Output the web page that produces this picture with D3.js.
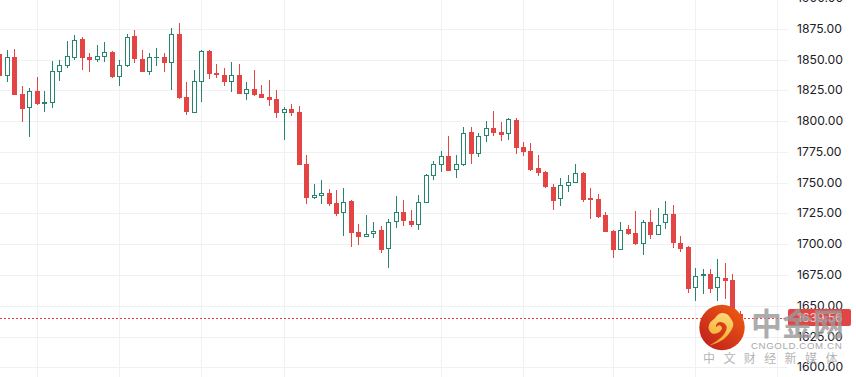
<!DOCTYPE html>
<html lang="zh">
<head>
  <meta charset="UTF-8">
  <title>Gold candles</title>
  <script src="https://d3js.org/d3.v7.min.js"></script>
  <style>
    html, body { margin: 0; padding: 0; background: #fff; overflow: hidden; }
    svg { display: block; }
  </style>
</head>
<body>
  <div id="root"></div>
  <script>
    const open = [1855.0,1837.1,1852.5,1822.5,1811.4,1824.9,1814.4,1815.5,1840.6,1845.5,1851.7,1867.1,1852.5,1850.4,1852.8,1856.6,1836.6,1845.5,1869.6,1850.9,1840.6,1851.7,1852.5,1847.9,1871.2,1820.1,1807.3,1832.5,1857.4,1839.5,
      1837.9,1832.5,1837.9,1822.8,1826.5,1822.5,1820.1,1818.4,1807.3,1810.3,1807.9,1765.7,1738.3,1740.0,1742.1,1734.0,1725.4,1735.6,1710.5,1706.7,1709.1,1712.1,1696.9,1718.1,1726.7,1719.4,1716.4,1734.3,1756.2,1765.1,
      1772.2,1761.1,1765.1,1791.6,1774.1,1788.1,1794.9,1791.6,1789.7,1801.4,1779.5,1776.2,1762.4,1759.2,1747.0,1737.5,1748.1,1750.5,1758.4,1738.1,1737.3,1724.3,1711.3,1696.1,1712.9,1709.7,1701.0,1718.6,1708.3,1717.5,
      1725.1,1701.5,1698.3,1664.5,1674.8,1676.4,1664.5,1673.1,1671.5,1643.9];
    const high = [1858.2,1858.2,1859.0,1829.0,1827.4,1836.3,1824.9,1849.3,1850.1,1865.5,1870.4,1868.8,1855.8,1862.3,1864.7,1857.4,1850.1,1871.2,1874.4,1858.2,1855.8,1859.8,1855.8,1876.1,1880.1,1832.2,1842.0,1858.2,1858.2,1846.8,
      1843.6,1848.5,1846.8,1832.2,1842.0,1829.8,1833.8,1825.7,1811.9,1814.4,1812.7,1773.0,1749.4,1752.7,1745.4,1744.6,1746.2,1736.4,1717.0,1724.3,1718.6,1715.3,1721.0,1739.7,1736.4,1728.3,1740.5,1757.6,1768.1,1776.2,
      1788.4,1773.0,1795.7,1795.7,1790.8,1800.6,1808.7,1799.8,1803.0,1803.0,1783.5,1782.7,1773.0,1760.0,1749.4,1754.3,1756.7,1765.7,1759.2,1746.2,1741.3,1726.7,1712.1,1718.6,1716.2,1727.5,1720.2,1728.3,1730.0,1735.6,
      1732.4,1707.2,1699.1,1681.3,1680.4,1680.4,1688.6,1685.3,1676.4,1646.4];
    const low = [1833.8,1832.2,1821.7,1799.8,1787.6,1813.6,1807.9,1811.1,1833.0,1843.6,1850.1,1842.0,1840.3,1848.5,1848.5,1835.5,1829.0,1844.4,1847.6,1840.3,1837.9,1845.2,1840.3,1825.7,1818.4,1805.4,1807.1,1816.0,1834.7,1835.5,
      1829.0,1824.1,1822.5,1817.6,1820.9,1819.2,1812.7,1803.0,1785.1,1804.6,1764.9,1733.2,1737.3,1733.2,1731.6,1723.5,1707.2,1698.3,1699.9,1706.4,1705.6,1693.4,1681.3,1713.7,1715.3,1714.5,1712.1,1734.3,1752.7,1759.2,
      1760.0,1754.3,1764.0,1765.7,1771.3,1783.5,1788.4,1784.3,1785.1,1773.8,1772.2,1760.0,1755.9,1746.2,1728.3,1731.6,1742.9,1750.5,1734.8,1721.0,1721.8,1710.5,1689.4,1695.9,1708.0,1699.9,1691.8,1704.8,1708.0,1712.9,
      1697.5,1694.2,1661.0,1654.5,1660.2,1661.0,1654.5,1656.1,1643.1,1630.0];
    const close = [1837.1,1852.2,1821.7,1810.3,1824.9,1814.4,1816.0,1841.2,1846.0,1853.3,1866.3,1851.7,1850.1,1853.3,1856.6,1836.3,1846.0,1868.8,1850.9,1840.3,1852.5,1852.5,1847.6,1871.2,1819.2,1807.9,1833.0,1857.4,1838.7,1837.9,
      1832.2,1837.6,1822.5,1826.3,1821.7,1819.2,1817.6,1807.1,1810.3,1807.1,1764.9,1738.1,1740.2,1741.9,1733.2,1725.1,1734.6,1709.7,1706.4,1709.1,1711.0,1695.9,1718.3,1726.4,1719.4,1716.2,1734.6,1756.5,1765.4,1771.9,
      1760.0,1765.4,1790.6,1773.8,1788.1,1794.6,1790.8,1789.2,1801.9,1778.7,1775.4,1760.8,1758.4,1747.0,1735.6,1748.4,1750.8,1758.1,1736.4,1736.4,1722.6,1710.5,1695.9,1711.8,1708.9,1700.7,1718.3,1708.0,1715.9,1724.8,
      1701.8,1696.7,1664.2,1674.5,1676.4,1664.2,1673.7,1670.7,1643.9,1640.3];
    const yTicks = [1900,1875,1850,1825,1800,1775,1750,1725,1700,1675,1650,1625,1600];
    const timeTicks = [5,16,27,38,59,70,82,93,104];
    const lastLabel = '1639.56';

    const W = 856, H = 377, plotW = 788;
    const green = '#26856e', red = '#e34444';

    const svg = d3.select('#root').append('svg')
      .attr('width', W)
      .attr('height', H)
      .style('background', '#fff');

    const x = d3.scaleLinear().domain([0, 105]).range([-0.1, 785.3]);
    const y = d3.scaleLinear().domain([1875, 1625]).range([28.8, 336.6]);
    const yRound = y.copy().interpolate(d3.interpolateRound);

    // grid
    svg.append('g').selectAll('line').data(timeTicks).join('line')
      .attr('x1', d => Math.floor(x(d)) + 0.5)
      .attr('x2', d => Math.floor(x(d)) + 0.5)
      .attr('y1', 0)
      .attr('y2', H)
      .attr('stroke', '#f0f1f3');

    svg.append('g')
      .attr('transform', `translate(${plotW},0)`)
      .call(d3.axisLeft(yRound).tickValues(yTicks).tickSize(plotW).tickFormat(''))
      .call(g => g.select('.domain').remove())
      .call(g => g.selectAll('line').attr('stroke', '#f0f1f3'));

    // y labels
    svg.append('g')
      .attr('transform', 'translate(797,0)')
      .call(d3.axisRight(yRound).tickValues(yTicks).tickSize(0).tickPadding(0).tickFormat(d3.format('.2f')))
      .call(g => g.select('.domain').remove())
      .call(g => g.selectAll('text')
        .attr('font-family', 'Inter, Roboto, sans-serif')
        .attr('font-size', 12.2)
        .attr('fill', '#1c2026'));

    // candles
    const colX = i => Math.floor(x(i));
    const rowY = v => Math.round(y(v) + 0.5);
    const idx = d3.range(open.length);
    const candle = svg.append('g').selectAll('g').data(idx).join('g');

    candle.append('rect')
      .attr('x', i => colX(i))
      .attr('width', 1)
      .attr('y', i => rowY(high[i]))
      .attr('height', i => rowY(low[i]) - rowY(high[i]))
      .attr('fill', i => close[i] > open[i] ? green : red);

    candle.append('rect')
      .each(function(i) {
        const up = close[i] > open[i];
        const top = rowY(Math.max(open[i], close[i]));
        const h = Math.max(rowY(Math.min(open[i], close[i])) - top, 1);
        const hollow = up && h > 2;
        d3.select(this)
          .attr('x', colX(i) - 2 + (hollow ? 0.5 : 0))
          .attr('width', hollow ? 4 : 5)
          .attr('y', top + (hollow ? 0.5 : 0))
          .attr('height', hollow ? h - 1 : h)
          .attr('fill', hollow ? '#fff' : (up ? green : red))
          .attr('stroke', hollow ? green : 'none');
      });

    // last price
    const lastY = rowY(close[close.length - 1]);
    svg.append('line')
      .attr('x1', 0).attr('x2', plotW)
      .attr('y1', lastY + 0.5).attr('y2', lastY + 0.5)
      .attr('stroke', '#ee3a3a')
      .attr('stroke-dasharray', '2,2');

    svg.append('rect')
      .attr('x', plotW).attr('y', lastY - 9)
      .attr('width', 63).attr('height', 17)
      .attr('rx', 2)
      .attr('fill', red);

    svg.append('text')
      .attr('x', 797).attr('y', lastY + 4)
      .attr('font-family', 'Inter, Roboto, sans-serif')
      .attr('font-size', 12.2)
      .attr('fill', '#fff')
      .attr('fill-opacity', 0.75)
      .text(lastLabel);

    // watermark
    const defs = svg.append('defs');
    const disc = defs.append('linearGradient').attr('id', 'disc')
      .attr('x1', 0.9).attr('y1', 0.05).attr('x2', 0.1).attr('y2', 0.95);
    disc.append('stop').attr('offset', 0).attr('stop-color', '#ee5a12');
    disc.append('stop').attr('offset', 1).attr('stop-color', '#c01f1e');
    const swirl = defs.append('linearGradient').attr('id', 'swirl')
      .attr('x1', 0.5).attr('y1', 0).attr('x2', 0.3).attr('y2', 1);
    swirl.append('stop').attr('offset', 0).attr('stop-color', '#fbd878');
    swirl.append('stop').attr('offset', 1).attr('stop-color', '#f6a51f');

    const logo = svg.append('g').attr('transform', 'translate(722,327.5)');
    logo.append('circle').attr('r', 22.7).attr('fill', 'url(#disc)');
    const swirlPts = [[-12,17.8],[2.3,11.2],[11.3,-2.2],[9,-8.8],[4,-13.8],[-2.7,-13.8],[-7.7,-8.8],[-12,-4.8],[-13.3,1.2],[-9.3,6.2],[-2.7,4.5],[0,0.5],[-2.7,-2.2],[-6,-0.5],[-4.3,-4.8],[1.3,-4.8],[4.7,-0.5],[2.3,6.2],[-4.3,12.8]];
    logo.append('path')
      .attr('d', d3.line().curve(d3.curveCatmullRomClosed)(swirlPts))
      .attr('fill', 'url(#swirl)');

    svg.append('text')
      .attr('x', 751).attr('y', 335)
      .attr('font-family', '"Noto Sans CJK SC", sans-serif')
      .attr('font-weight', 700)
      .attr('font-size', 31)
      .attr('fill', '#9a9a9a')
      .attr('fill-opacity', 0.82)
      .text('中金网');

    svg.append('text')
      .attr('x', 751).attr('y', 349)
      .attr('font-family', 'Liberation Sans, sans-serif')
      .attr('font-size', 9.7)
      .attr('letter-spacing', 0.6)
      .attr('fill', '#a9a9a9')
      .text('CNGOLD.COM.CN');

    svg.append('text')
      .attr('x', 703).attr('y', 363)
      .attr('font-family', '"Noto Sans CJK SC", sans-serif')
      .attr('font-size', 12)
      .attr('letter-spacing', 8.4)
      .attr('fill', '#b5b5b5')
      .text('中文财经新媒体');
  </script>
</body>
</html>
